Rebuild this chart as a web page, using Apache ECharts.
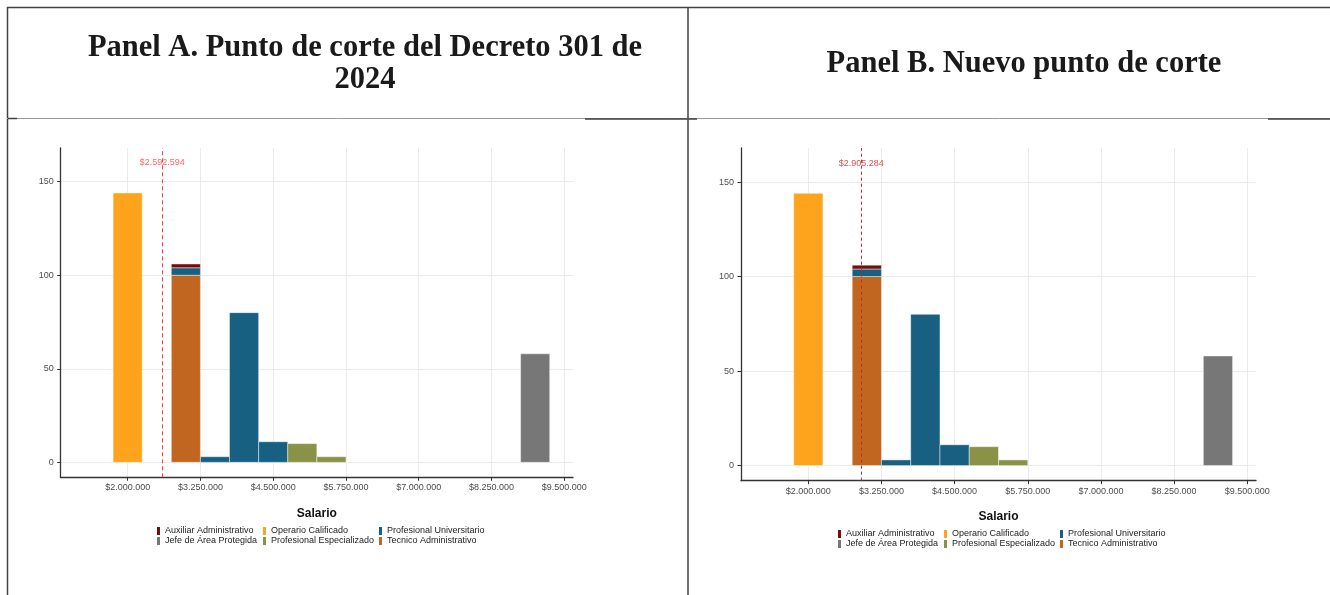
<!DOCTYPE html>
<html>
<head>
<meta charset="utf-8">
<script src="https://cdn.jsdelivr.net/npm/echarts@6/dist/echarts.min.js"></script>
<style>
html,body{margin:0;padding:0;background:#fff;}
#chart{width:1330px;height:595px;}
</style>
</head>
<body>
<div id="chart"></div>
<script>
// ---------------- DATA ----------------
const titleA = 'Panel A. Punto de corte del Decreto 301 de\n2024';
const titleB = 'Panel B. Nuevo punto de corte';
const xAxisName = 'Salario';
const binWidth = 500000;
const binStarts = [1250000, 1750000, 2250000, 2750000, 3250000, 3750000, 4250000, 4750000,
                   5250000, 5750000, 6250000, 6750000, 7250000, 7750000, 8250000, 8750000];
const categories = ['Auxiliar Administrativo', 'Jefe de Área Protegida', 'Operario Calificado',
                    'Profesional Especializado', 'Profesional Universitario', 'Tecnico Administrativo'];
const countsAuxiliar    = [0, 0, 0, 2, 0, 0, 0, 0, 0, 0, 0, 0, 0, 0, 0, 0];
const countsJefe        = [0, 0, 0, 0, 0, 0, 0, 0, 0, 0, 0, 0, 0, 0, 0, 58];
const countsOperario    = [0, 144, 0, 0, 0, 0, 0, 0, 0, 0, 0, 0, 0, 0, 0, 0];
const countsEspecializado = [0, 0, 0, 0, 0, 0, 0, 10, 3, 0, 0, 0, 0, 0, 0, 0];
const countsUniversitario = [0, 0, 0, 4, 3, 80, 11, 0, 0, 0, 0, 0, 0, 0, 0, 0];
const countsTecnico     = [0, 0, 0, 100, 0, 0, 0, 0, 0, 0, 0, 0, 0, 0, 0, 0];
const xTicks = [2000000, 3250000, 4500000, 5750000, 7000000, 8250000, 9500000];
const yTicks = [0, 50, 100, 150];
const cutA = 2592594;
const cutB = 2905284;
const cutLabelY = 160;

// ---------------- STYLE ----------------
const colors = {
  'Auxiliar Administrativo': '#7d0a0a',
  'Jefe de Área Protegida': '#777777',
  'Operario Calificado': '#fea41c',
  'Profesional Especializado': '#8a9247',
  'Profesional Universitario': '#176082',
  'Tecnico Administrativo': '#c16621'
};
const countsByCat = {
  'Auxiliar Administrativo': countsAuxiliar,
  'Jefe de Área Protegida': countsJefe,
  'Operario Calificado': countsOperario,
  'Profesional Especializado': countsEspecializado,
  'Profesional Universitario': countsUniversitario,
  'Tecnico Administrativo': countsTecnico
};
// stacking order: bottom -> top (ggplot reverse factor order)
const stackOrder = categories.slice().reverse();

function fmtMoney(v) {
  return '$' + Math.round(v).toString().replace(/\B(?=(\d{3})+(?!\d))/g, '.');
}

function buildSeries(gridIdx) {
  const series = [];
  const base = binStarts.map(() => 0);
  stackOrder.forEach(cat => {
    const counts = countsByCat[cat];
    const data = [];
    binStarts.forEach((s, i) => {
      if (counts[i] > 0) {
        data.push([s, s + binWidth, base[i], base[i] + counts[i]]);
        base[i] += counts[i];
      }
    });
    series.push({
      type: 'custom',
      name: cat,
      xAxisIndex: gridIdx,
      yAxisIndex: gridIdx,
      itemStyle: { color: colors[cat] },
      encode: { x: [0, 1], y: [2, 3] },
      renderItem: function (params, api) {
        const p0 = api.coord([api.value(0), api.value(3)]);
        const p1 = api.coord([api.value(1), api.value(2)]);
        return {
          type: 'rect',
          shape: { x: p0[0], y: p0[1], width: p1[0] - p0[0], height: p1[1] - p0[1] },
          style: { fill: colors[cat], stroke: 'rgba(255,255,255,0.55)', lineWidth: 0.8 }
        };
      },
      data: data,
      z: 3
    });
  });
  return series;
}

function cutSeries(gridIdx, cut, color, dash) {
  return {
    type: 'scatter',
    name: 'corte' + gridIdx,
    xAxisIndex: gridIdx,
    yAxisIndex: gridIdx,
    symbolSize: 0,
    silent: true,
    data: [[cut, cutLabelY]],
    label: {
      show: true, position: 'inside', formatter: () => fmtMoney(cut),
      color: color, fontSize: 9, fontFamily: 'Liberation Sans'
    },
    markLine: {
      symbol: 'none', silent: true, animation: false,
      label: { show: false },
      lineStyle: { color: color, type: dash, width: 1 },
      data: [{ xAxis: cut }]
    },
    z: 5
  };
}

function xAxisCfg(gridIdx) {
  return {
    type: 'value', gridIndex: gridIdx,
    min: 850000, max: 9650000,
    name: xAxisName, nameLocation: 'middle', nameGap: 30,
    nameTextStyle: { fontFamily: 'Liberation Sans', fontWeight: 'bold', fontSize: 12, color: '#111' },
    axisLine: { show: true, onZero: false, lineStyle: { color: '#333', width: 1.3 } },
    axisTick: { show: true, length: 3.5, customValues: xTicks, lineStyle: { color: '#333' } },
    axisLabel: { customValues: xTicks, formatter: v => fmtMoney(v), fontSize: 9,
                 fontFamily: 'Liberation Sans', color: '#4d4d4d', margin: 6, hideOverlap: false },
    splitLine: { show: true, lineStyle: { color: '#ebebeb', width: 1 } }
  };
}
function yAxisCfg(gridIdx) {
  return {
    type: 'value', gridIndex: gridIdx,
    min: -8, max: 168,
    axisLine: { show: true, onZero: false, lineStyle: { color: '#333', width: 1.3 } },
    axisTick: { show: true, length: 3.5, customValues: yTicks, lineStyle: { color: '#333' } },
    axisLabel: { customValues: yTicks, fontSize: 9, fontFamily: 'Liberation Sans', color: '#4d4d4d', margin: 7 },
    splitLine: { show: true, lineStyle: { color: '#ebebeb', width: 1 } }
  };
}

function legendCol(left, top, names) {
  return {
    orient: 'vertical', left: left, top: top, padding: 0,
    itemGap: 0, itemWidth: 3, itemHeight: 8, icon: 'rect',
    selectedMode: false,
    textStyle: { fontSize: 9, lineHeight: 10, fontFamily: 'Liberation Sans', color: '#222' },
    data: names
  };
}

const lineStyleDark = { stroke: '#404040', lineWidth: 1.5 };
const graphics = [
  { type: 'line', shape: { x1: 7, y1: 7.5, x2: 1330, y2: 7.5 }, style: lineStyleDark },
  { type: 'line', shape: { x1: 7.5, y1: 7, x2: 7.5, y2: 595 }, style: lineStyleDark },
  { type: 'line', shape: { x1: 688, y1: 7, x2: 688, y2: 595 }, style: lineStyleDark },
  { type: 'line', shape: { x1: 7, y1: 118.5, x2: 1330, y2: 118.5 }, style: { stroke: '#9a9a9a', lineWidth: 1 } },
  { type: 'line', shape: { x1: 8, y1: 118.5, x2: 17, y2: 118.5 }, style: lineStyleDark },
  { type: 'line', shape: { x1: 585, y1: 119, x2: 697, y2: 119 }, style: lineStyleDark },
  { type: 'line', shape: { x1: 1268, y1: 119, x2: 1330, y2: 119 }, style: lineStyleDark },
  { type: 'text', x: 365, y: 64, style: { text: titleA, fontFamily: 'Liberation Serif', fontWeight: 'bold',
      fontSize: 30.5, lineHeight: 32, fill: '#1a1a1a', align: 'center', verticalAlign: 'middle' } },
  { type: 'text', x: 1024, y: 64, style: { text: titleB, fontFamily: 'Liberation Serif', fontWeight: 'bold',
      fontSize: 30.5, lineHeight: 32, fill: '#1a1a1a', align: 'center', verticalAlign: 'middle' } }
];

const option = {
  animation: false,
  backgroundColor: '#fff',
  grid: [
    { left: 60.7, top: 148, width: 512.3, height: 329.3 },
    { left: 741, top: 148, width: 515, height: 332.7 }
  ],
  xAxis: [xAxisCfg(0), xAxisCfg(1)],
  yAxis: [yAxisCfg(0), yAxisCfg(1)],
  legend: [
    legendCol(157, 526, [categories[0], categories[1]]),
    legendCol(263, 526, [categories[2], categories[3]]),
    legendCol(379, 526, [categories[4], categories[5]]),
    legendCol(838, 529, [categories[0], categories[1]]),
    legendCol(944, 529, [categories[2], categories[3]]),
    legendCol(1060, 529, [categories[4], categories[5]])
  ],
  graphic: graphics,
  series: [].concat(
    buildSeries(0),
    buildSeries(1),
    [cutSeries(0, cutA, '#ff3b3b', [4, 3]), cutSeries(1, cutB, '#d42020', [3, 3])]
  )
};

const chart = echarts.init(document.getElementById('chart'), null, { renderer: 'canvas' });
chart.setOption(option);
</script>
</body>
</html>
